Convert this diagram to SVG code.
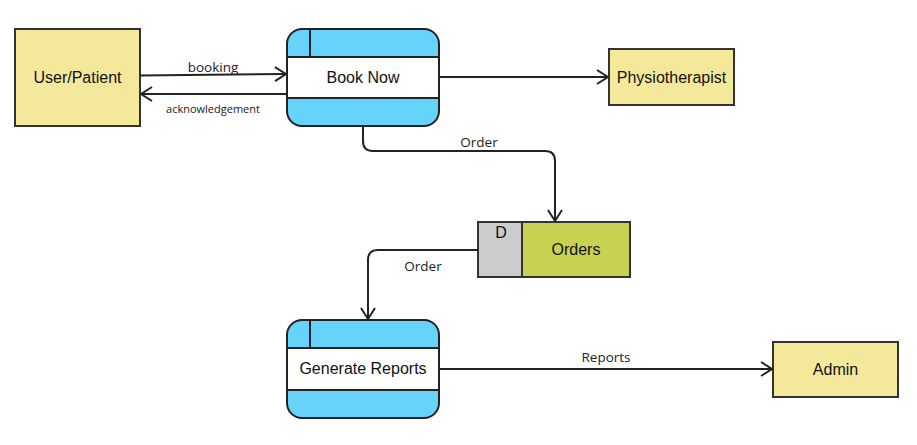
<svg xmlns="http://www.w3.org/2000/svg" width="917" height="445" viewBox="0 0 917 445">
<style>
.ent{fill:#F4E99B;stroke:#333;stroke-width:2}
.proc{fill:#66D3FA;stroke:#222;stroke-width:2}
.band{fill:#fff;stroke:#222;stroke-width:2}
.ln{fill:none;stroke:#222;stroke-width:2}
.t{font-family:"Liberation Sans",Arial,sans-serif;font-size:16px;fill:#111;text-anchor:middle}
.lb{font-family:"Open Sans",sans-serif;font-size:13.5px;fill:#222;text-anchor:middle}
.sm{font-size:11px}
</style>
<defs>
<marker id="arr" markerWidth="16" markerHeight="16" refX="13" refY="8" orient="auto" markerUnits="userSpaceOnUse">
<path d="M2,1 L13,8 L2,15" fill="none" stroke="#222" stroke-width="2"/>
</marker>
</defs>
<g id="user-patient">
<rect class="ent" x="15" y="29" width="125" height="97"/>
<text class="t" x="77.5" y="83">User/Patient</text>
</g>
<g id="book-now">
<rect class="proc" x="287" y="29" width="152" height="97" rx="15"/>
<rect class="band" x="287" y="57" width="152" height="41"/>
<line class="ln" x1="310" y1="29" x2="310" y2="57"/>
<text class="t" x="363" y="83">Book Now</text>
</g>
<g id="physiotherapist">
<rect class="ent" x="609" y="49" width="125" height="56"/>
<text class="t" x="671.5" y="83">Physiotherapist</text>
</g>
<g id="orders">
<rect x="478" y="222" width="44" height="55" fill="#CCCCCC" stroke="#333" stroke-width="2"/>
<rect x="522" y="222" width="108" height="55" fill="#C8D151" stroke="#333" stroke-width="2"/>
<text class="t" x="501" y="238">D</text>
<text class="t" x="576" y="255">Orders</text>
</g>
<g id="generate-reports">
<rect class="proc" x="287" y="320" width="152" height="98" rx="15"/>
<rect class="band" x="287" y="348" width="152" height="42"/>
<line class="ln" x1="310" y1="320" x2="310" y2="348"/>
<text class="t" x="363" y="374">Generate Reports</text>
</g>
<g id="admin">
<rect class="ent" x="773" y="342" width="125" height="55"/>
<text class="t" x="835.5" y="375">Admin</text>
</g>
<g id="connectors">
<path class="ln" d="M140,75.5 L286,74" marker-end="url(#arr)"/>
<path class="ln" d="M286,94 L141,94" marker-end="url(#arr)"/>
<path class="ln" d="M439,77 L608,77" marker-end="url(#arr)"/>
<path class="ln" d="M363,126 L363,141 Q363,151 373,151 L545,151 Q555,151 555,161 L555,221" marker-end="url(#arr)"/>
<path class="ln" d="M478,250 L378,250 Q368,250 368,260 L368,319" marker-end="url(#arr)"/>
<path class="ln" d="M439,369 L772,369" marker-end="url(#arr)"/>
<text class="lb" x="213" y="72">booking</text>
<text class="lb sm" x="213" y="113">acknowledgement</text>
<text class="lb" x="479" y="147">Order</text>
<text class="lb" x="423" y="271">Order</text>
<text class="lb" x="606" y="362">Reports</text>
</g>
</svg>
